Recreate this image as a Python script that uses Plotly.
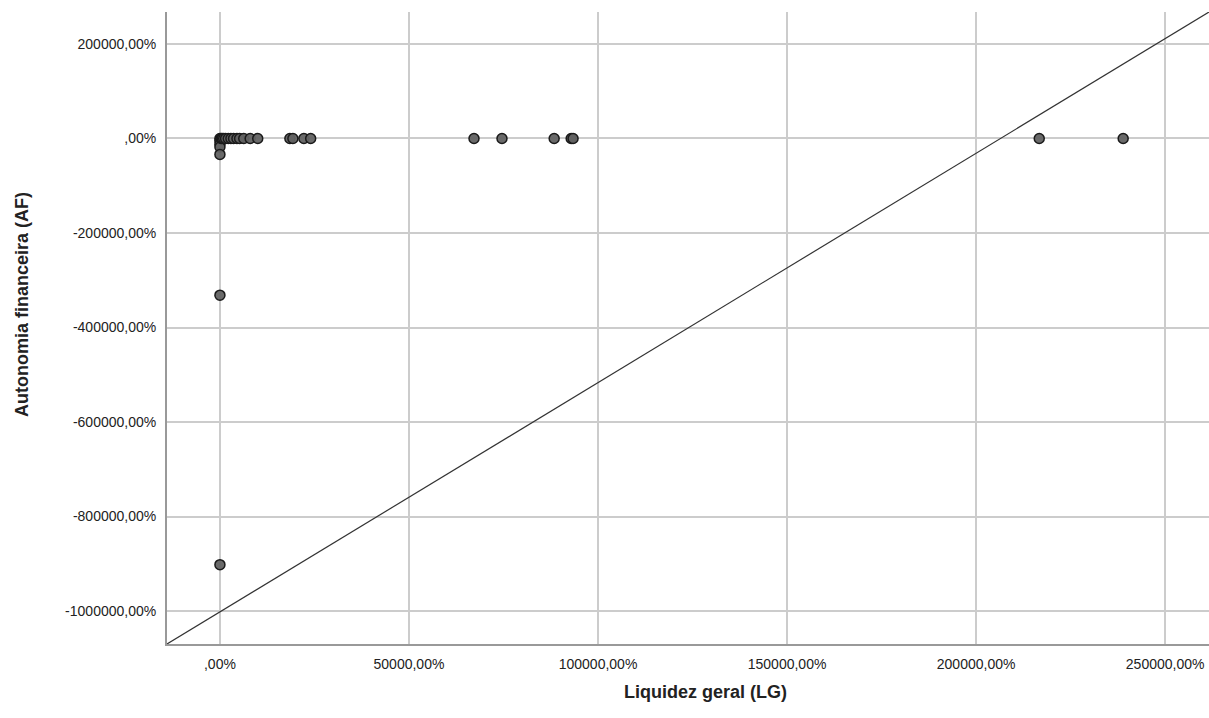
import plotly.graph_objects as go

# Liquidez geral (LG) and Autonomia financeira (AF), both in %
lg = [0, 0, 0, 0, 0, 0, 0, 300, 600, 1000, 1500, 2200, 2900, 3600, 4500,
      5200, 6300, 8000, 10000, 18500, 19300, 22200, 24000,
      67200, 74600, 88400, 92900, 93400, 216700, 238900]
af = [0, -5000, -12000, -18000, -33800, -331600, -901800, 0, 0, 0, 0, 0, 0, 0, 0,
      0, 0, 0, 0, 0, 0, 0, 0,
      0, 0, 0, 0, 0, 0, 0]

x_ticks = [0, 50000, 100000, 150000, 200000, 250000]
x_labels = [",00%", "50000,00%", "100000,00%", "150000,00%", "200000,00%", "250000,00%"]
y_ticks = [200000, 0, -200000, -400000, -600000, -800000, -1000000]
y_labels = ["200000,00%", ",00%", "-200000,00%", "-400000,00%", "-600000,00%",
            "-800000,00%", "-1000000,00%"]

x_range = [-14000, 261600]
y_range = [-1069700, 267600]

fig = go.Figure()

# corner-to-corner reference line
fig.add_trace(go.Scatter(
    x=x_range, y=y_range, mode="lines",
    line=dict(color="#333333", width=1.2),
    hoverinfo="skip", showlegend=False,
))

fig.add_trace(go.Scatter(
    x=lg, y=af, mode="markers",
    marker=dict(size=10, color="rgba(98,98,98,0.95)",
                line=dict(color="#1a1a1a", width=1.5)),
    showlegend=False,
))

font_family = "Liberation Sans, Arial, sans-serif"

fig.update_layout(
    width=1209, height=718,
    margin=dict(l=167, r=0, t=12, b=74),
    paper_bgcolor="white", plot_bgcolor="white",
    font=dict(family=font_family, size=14, color="#222222"),
    xaxis=dict(
        range=x_range, tickvals=x_ticks, ticktext=x_labels,
        showgrid=True, gridcolor="#cccccc", gridwidth=2,
        showline=True, linecolor="#999999", linewidth=2,
        zeroline=False, ticks="", ticklen=0, ticklabelstandoff=6,
        tickfont=dict(size=14),
    ),
    yaxis=dict(
        range=y_range, tickvals=y_ticks, ticktext=y_labels,
        showgrid=True, gridcolor="#cccccc", gridwidth=2,
        showline=True, linecolor="#999999", linewidth=2,
        zeroline=False, ticks="", ticklen=0, ticklabelstandoff=6,
        tickfont=dict(size=14),
    ),
    annotations=[
        dict(text="<b>Liquidez geral (LG)</b>", xref="paper", yref="paper",
             x=(705 - 167) / 1042, y=-(692 - 644) / 632,
             xanchor="center", yanchor="middle", showarrow=False,
             font=dict(size=18, family=font_family, color="#222222")),
        dict(text="<b>Autonomia financeira (AF)</b>", xref="paper", yref="paper",
             x=-(167 - 22) / 1042, y=(644 - 305) / 632, textangle=-90,
             xanchor="center", yanchor="middle", showarrow=False,
             font=dict(size=18, family=font_family, color="#222222")),
    ],
)

fig.write_html("out.html")
